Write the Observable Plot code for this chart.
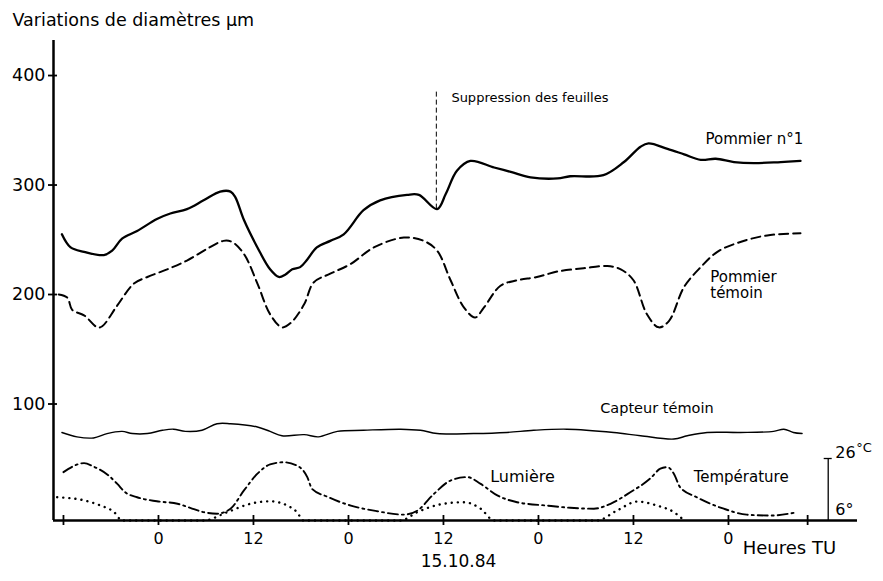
<!DOCTYPE html>
<html><head><meta charset="utf-8">
<script src="https://cdn.jsdelivr.net/npm/d3@7"></script>
<script src="https://cdn.jsdelivr.net/npm/@observablehq/plot@0.6"></script>
<style>body{margin:0;background:#fff}</style>
</head><body><div id="chart"></div>
<script>
// ---- data (hours from 0h of 14.10.84; values in µm) ----
const pommier1Hours  = [-12.2,-11.1,-9.4,-6.9,-5.85,-4.6,-2.7,-0.2,1.5,3.6,5.7,7.8,9.1,9.7,10.8,12.5,14.1,15.2,16.0,16.9,17.9,18.8,20.0,21.7,23.4,25.9,28.0,31.4,32.9,35.2,36.3,37.7,39.4,42.4,44.5,47.0,50.4,52.0,56.2,58.8,60.9,61.9,64.3,66.4,68.5,70.4,72.7,75.2,78.6,81.1];
const pommier1Values = [255,243,239,236,240,251,258,269,274,278,286,294,294,289,268,243,223,216,218,223,225,232,243,249,255,277,286,291,291,278,292,313,322,316,312,307,306,308,309,321,335,338,333,328,323,324,321,320,321,322];

const temoinHours  = [-12.6,-11.5,-10.9,-9.4,-7.7,-7.1,-5.2,-3.1,-1.4,1.1,3.6,6.2,8.2,9.3,10.8,12.5,14.1,15.6,16.7,18.4,19.6,21.7,24.3,27.2,31.0,33.5,35.2,36.9,38.6,40.0,41.1,43.2,45.3,47.8,50.4,53.7,56.7,58.4,60.0,61.7,63.2,64.5,66.4,68.5,70.6,73.5,76.9,81.1];
const temoinValues = [200,197,186,181,170,171,190,210,216,223,231,242,249,248,237,210,182,170,174,191,211,219,228,243,252,249,240,213,188,179,188,208,213,216,221,224,226,223,213,182,170,176,207,225,239,248,254,256];

const capteurHours  = [-12.2,-10.3,-8.2,-6.5,-4.6,-3.3,-1.4,0.5,1.9,3.4,5.5,7.4,9.1,12.5,14.1,15.6,18.4,20.2,22.6,25.9,30.6,33.1,35.2,39.8,44.0,47.4,51.6,57.5,60.9,65.1,66.8,69.3,73.5,77.7,79.0,80.2,81.3];
const capteurValues = [74,70,69,73,75,73,73,76,77,75,76,82,82,79,75,71,72,70,75,76,77,76,73,73,74,76,77,74,71,68,71,74,74,75,77,74,73];

const temperatureHours = [-12.0,-9.4,-8.2,-6.3,-5.2,-4.2,-2.7,-0.2,2.4,4.0,5.7,7.4,9.1,10.8,12.5,14.1,15.8,17.5,18.8,19.4,21.3,24.3,27.6,31.0,32.7,34.8,36.9,39.0,40.7,42.8,45.3,49.1,52.0,55.0,57.1,59.6,62.1,63.4,64.3,65.1,65.9,68.0,71.4,74.3,77.3,80.7];
const temperatureC     = [21.6,24.5,23.4,20.5,17.8,15.1,13.5,12.2,11.4,10.1,8.7,8.2,9.8,15.7,21.1,24.1,24.8,23.7,20.0,16.2,13.7,10.8,9.0,7.9,9.2,14.6,18.9,20.0,17.8,14.1,11.9,10.8,10.1,9.8,11.4,15.1,19.5,22.7,23.2,21.1,16.7,13.5,9.8,7.9,7.6,8.7];

const lumiereHours  = [-12.8,-9.4,-7.3,-5.6,-4.6,5.7,8.7,11.6,14.1,16.3,17.5,18.3,30.6,32.7,35.6,38.6,40.7,42.4,55.4,57.9,60.5,63.0,65.1,66.4];
const lumiereRel    = [7.5,6.5,4.8,2.7,0,0,2.7,5.4,6.2,4.8,2.7,0,0,2.7,5.2,5.9,3.8,0,0,3.2,6.1,4.8,2.7,0];

const yTicks = [100, 200, 300, 400];
const xTickHours = [-12, 0, 12, 24, 36, 48, 60, 72, 82];
const xLabelHours = [0, 12, 24, 36, 48, 60, 72];
const xTickLabels = ["0", "12", "0", "12", "0", "12", "0"];

const suppressionHour = 35.1, suppressionFrom = 278, suppressionTo = 386;
const tempScaleLow = 6, tempScaleHigh = 26;

// ---- layout constants ----
const yBase = -6.4, yTop = 432, xMin = -13.26, xMax = 88.3;
const umPerUnit = 2.831;   // temperature/light panel: µm-equivalent per °C
const tY = t => yBase + (t - tempScaleLow) * umPerUnit;
const lY = l => yBase + l * umPerUnit;

const zip = (hs, vs) => hs.map((h, i) => ({h, v: vs[i]}));
const pommier1 = zip(pommier1Hours, pommier1Values);
const temoin = zip(temoinHours, temoinValues);
const capteur = zip(capteurHours, capteurValues);
const temperature = temperatureHours.map((h, i) => ({h, v: tY(temperatureC[i])}));
const lumiere = lumiereHours.map((h, i) => ({h, v: lY(lumiereRel[i])}));
const scaleBarH = 84.6;

const chart = Plot.plot({
  width: 883, height: 581,
  marginLeft: 53, marginRight: 26, marginTop: 40, marginBottom: 61,
  x: {domain: [xMin, xMax], axis: null},
  y: {domain: [yBase, yTop], axis: null},
  style: {fontFamily: "DejaVu Sans", fontSize: "15px", color: "#000", background: "#fff"},
  marks: [
    // axes
    Plot.ruleY([yBase], {stroke: "#000", strokeWidth: 2.5}),
    Plot.ruleX([xMin], {stroke: "#000", strokeWidth: 2.5}),
    Plot.ruleX(xTickHours, {x: d => d, y1: yBase, y2: yBase, insetTop: -5, insetBottom: -5, stroke: "#000", strokeWidth: 1.8}),
    Plot.ruleY(yTicks, {y: d => d, x1: xMin, x2: xMin, insetLeft: -5, insetRight: -4, stroke: "#000", strokeWidth: 1.8}),
    Plot.text(yTicks, {x: xMin, y: d => d, text: d => String(d), textAnchor: "end", dx: -8, fontSize: 17.5}),
    Plot.text(xLabelHours, {x: d => d, y: yBase, text: (d, i) => xTickLabels[i], dy: 18, fontSize: 16}),
    Plot.text(["Variations de diamètres µm"], {frameAnchor: "top-left", dx: -41, dy: -20, lineAnchor: "middle", textAnchor: "start", fontSize: 17.5}),
    Plot.text(["Heures TU"], {x: 73.8, y: yBase, dy: 28, textAnchor: "start", fontSize: 18}),
    Plot.text(["15.10.84"], {x: 37.9, y: yBase, dy: 41, fontSize: 17}),
    // curves
    Plot.line(pommier1, {x: "h", y: "v", stroke: "#000", strokeWidth: 2.3, curve: "catmull-rom"}),
    Plot.line(temoin, {x: "h", y: "v", stroke: "#000", strokeWidth: 2, strokeDasharray: "9,5", curve: "catmull-rom"}),
    Plot.line(capteur, {x: "h", y: "v", stroke: "#000", strokeWidth: 1.4, curve: "catmull-rom"}),
    Plot.line(temperature, {x: "h", y: "v", stroke: "#000", strokeWidth: 1.9, strokeDasharray: "10,4,2,4", curve: "monotone-x"}),
    Plot.line(lumiere, {x: "h", y: "v", stroke: "#000", strokeWidth: 2.4, strokeDasharray: "0.1,6", strokeLinecap: "round", curve: "monotone-x"}),
    // leaf removal marker
    Plot.ruleX([suppressionHour], {x: d => d, y1: suppressionFrom, y2: suppressionTo, stroke: "#000", strokeWidth: 1, strokeDasharray: "5,3"}),
    Plot.text(["Suppression des feuilles"], {x: 37.0, y: 380, textAnchor: "start", fontSize: 13}),
    // series labels
    Plot.text(["Pommier n°1"], {x: 69.1, y: 341.5, textAnchor: "start", fontSize: 15}),
    Plot.text(["Pommier\ntémoin"], {x: 69.7, y: 209, textAnchor: "start", fontSize: 15, lineHeight: 1.1}),
    Plot.text(["Capteur témoin"], {x: 55.8, y: 96, textAnchor: "start", fontSize: 14.5}),
    Plot.text(["Lumière"], {x: 41.9, y: 33, textAnchor: "start", fontSize: 16}),
    Plot.text(["Température"], {x: 67.6, y: 33, textAnchor: "start", fontSize: 15}),
    // temperature scale bar
    Plot.ruleX([scaleBarH], {x: d => d, y1: tY(tempScaleLow), y2: tY(tempScaleHigh), stroke: "#000", strokeWidth: 1.3}),
    Plot.ruleY([tY(tempScaleHigh)], {y: d => d, x1: scaleBarH, x2: scaleBarH, insetLeft: -4, insetRight: -4, stroke: "#000", strokeWidth: 1.3}),
    Plot.text(["26"], {x: scaleBarH, y: tY(tempScaleHigh), dx: 7, dy: -6, textAnchor: "start", fontSize: 16}),
    Plot.text(["°C"], {x: scaleBarH, y: tY(tempScaleHigh), dx: 28, dy: -11, textAnchor: "start", fontSize: 13}),
    Plot.text(["6°"], {x: scaleBarH, y: tY(tempScaleLow), dx: 7, dy: -11, textAnchor: "start", fontSize: 16})
  ]
});
document.getElementById("chart").appendChild(chart);
</script></body></html>
